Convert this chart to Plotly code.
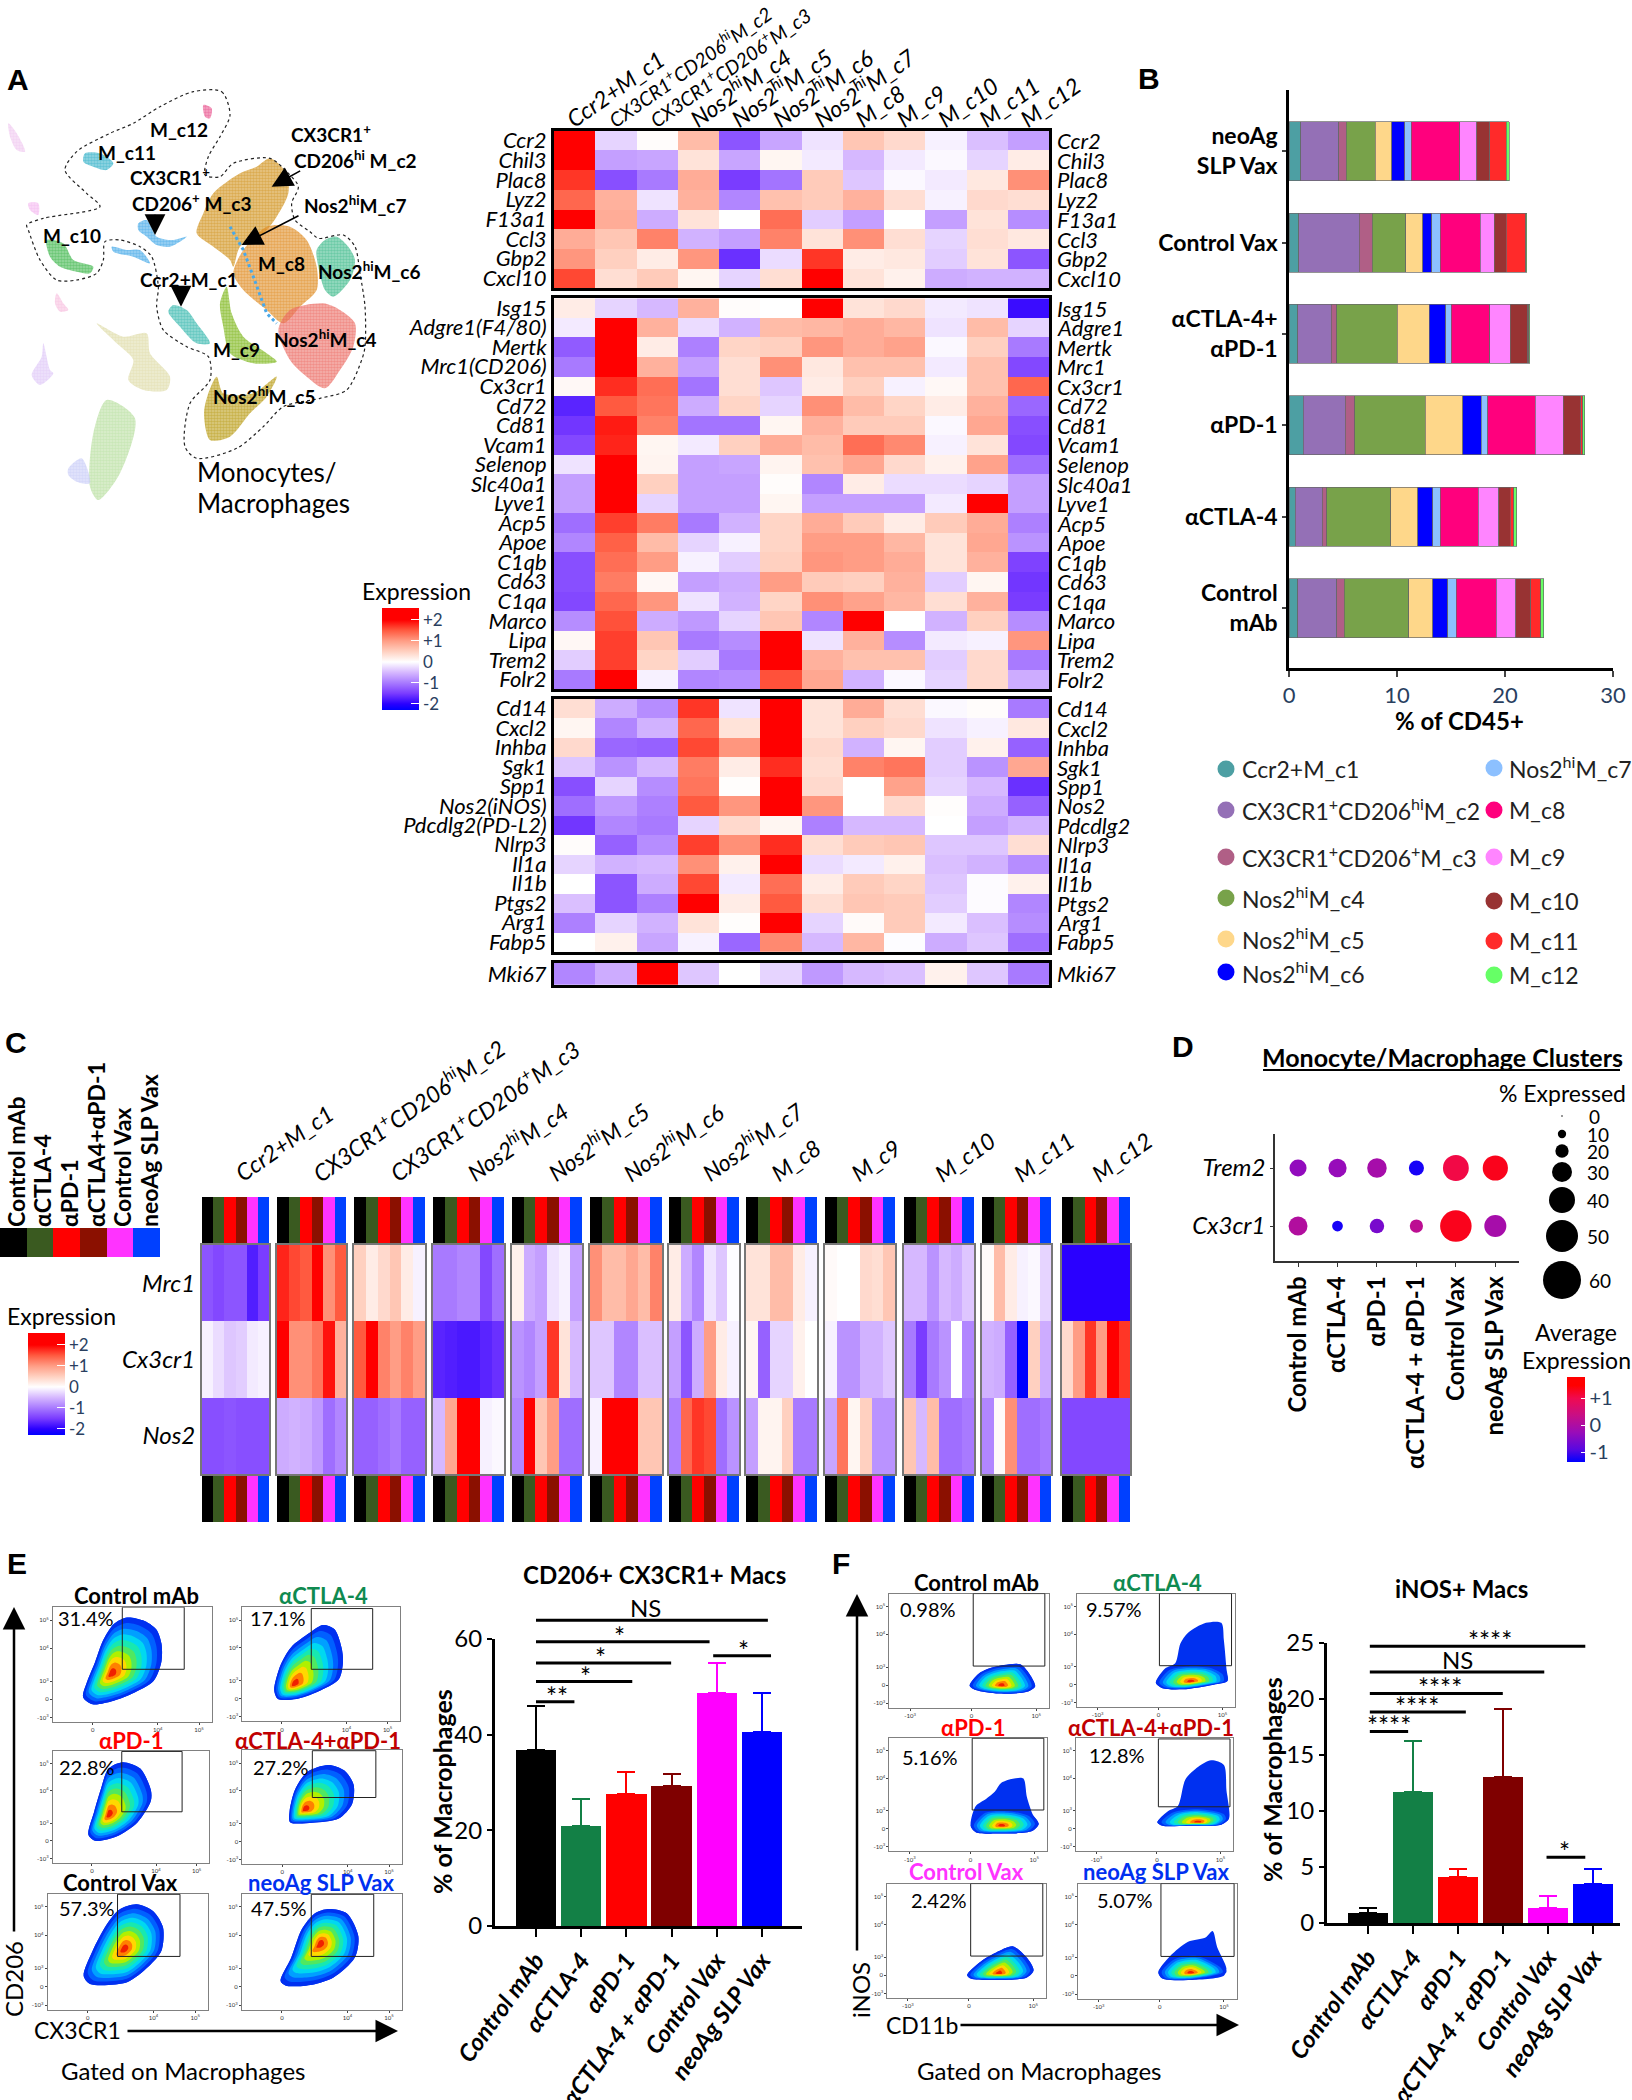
import plotly.graph_objects as go

W, H = 1632, 2100
FONT = "Lato"

# ---------- Panel A heatmap values ----------
CLUSTERS = ["Ccr2+M_c1", "<span style='font-size:19.5px'>CX3CR1<sup>+</sup>CD206<sup>hi</sup>M_c2</span>",
            "<span style='font-size:19.5px'>CX3CR1<sup>+</sup>CD206<sup>+</sup>M_c3</span>",
            "Nos2<sup>hi</sup>M_c4", "Nos2<sup>hi</sup>M_c5", "Nos2<sup>hi</sup>M_c6", "Nos2<sup>hi</sup>M_c7",
            "M_c8", "M_c9", "M_c10", "M_c11", "M_c12"]
GENES_1 = ["Ccr2", "Chil3", "Plac8", "Lyz2", "F13a1", "Ccl3", "Gbp2", "Cxcl10"]
HEAT_1 = [
    [2.0, -0.3, 0.03, 0.7, -1.3, -0.65, -0.2, 0.6, 0.4, -0.1, -0.45, -0.7],
    [2, -0.7, -0.65, 0.3, -0.65, 0.1, -0.15, -0.5, -0.15, -0.05, -0.3, 0.2],
    [1.7, -1.35, -1.0, 0.85, -1.5, -1.05, 0.55, -0.4, -0.05, -0.15, 0.25, 1.1],
    [1.4, 0.8, -0.2, 0.8, -0.9, 0.65, 0.55, 0.8, 0.35, -0.1, 0.4, 0.35],
    [2, 0.85, -0.6, 0.3, 0, 1.35, -0.35, -0.7, 0, -0.7, 0.3, -0.85],
    [0.85, 0.6, 1.2, -0.55, -0.7, 1.2, 0.3, 1.1, 0.35, -0.3, 0.35, 0.25],
    [1.05, 0.5, 0.2, 1.05, -1.6, -0.25, 1.7, 0.2, 0.25, -0.35, 0.3, -1.3],
    [1.6, 0.35, 0.55, 0.1, -0.3, 0.35, 2, 0.3, 0.15, -0.6, -0.55, -0.55],
]
GENES_2 = ["Isg15", "Adgre1(F4/80)", "Mertk", "Mrc1(CD206)", "Cx3cr1", "Cd72", "Cd81", "Vcam1", "Selenop", "Slc40a1",
           "Lyve1", "Acp5", "Apoe", "C1qb", "Cd63", "C1qa", "Marco", "Lipa", "Trem2", "Folr2"]
GENES_2R = ["Isg15", "Adgre1", "Mertk", "Mrc1", "Cx3cr1", "Cd72", "Cd81", "Vcam1", "Selenop", "Slc40a1",
            "Lyve1", "Acp5", "Apoe", "C1qb", "Cd63", "C1qa", "Marco", "Lipa", "Trem2", "Folr2"]
HEAT_2 = [
    [0.2, -0.3, -0.5, 0.8, 0.03, 0, 2, 0.3, 0.4, -0.15, -0.2, -1.9],
    [-0.15, 2, 0.8, -0.25, -0.55, 0.7, 0.75, 0.85, 0.75, -0.2, 0.7, -0.3],
    [-1.25, 2, 0.2, -0.95, 0.45, 0.5, 1.05, 0.85, 0.95, -0.05, 0.5, -1.0],
    [-1.0, 2, 0.8, -0.7, 0.35, 1.1, 0.25, 0.65, 0.65, -0.15, 0.65, -1.4],
    [0.07, 1.75, 1.35, -1.05, 0.35, -0.4, 0.2, 0.5, -0.1, 0.07, 0.65, 1.4],
    [-1.7, 1.5, 1.3, -0.6, 0.45, -0.3, 1.1, 0.7, 0.45, 0.2, 0.8, -1.15],
    [-1.55, 1.85, 1.2, -1.05, -1.05, 0.1, 0.8, 0.55, 0.55, -0.05, 0.9, -1.35],
    [-1.4, 1.8, 0.1, -0.15, 0.5, 0.85, 0.7, 1.35, 1.15, -0.1, 0.3, -1.4],
    [-0.2, 2, 0.12, -0.7, -0.65, 0.12, 0.65, 0.9, 0.4, 0.15, 0.95, -1.1],
    [-0.7, 2, 0.5, -0.7, -0.7, 0.03, -0.9, 0.2, -0.25, -0.25, -0.3, -0.7],
    [-0.7, 2, -0.3, -0.7, -0.7, 0.1, -0.7, -0.7, -0.7, -0.15, 2, -0.7],
    [-1.1, 1.65, 1.25, -1.0, -0.55, 0.45, 0.85, 0.55, 0.2, 0.55, 0.85, -0.95],
    [-0.9, 1.45, 0.7, -0.3, -0.1, 0.45, 1.0, 1.0, 0.75, 0.3, 0.9, -0.8],
    [-1.35, 1.35, 1.0, -0.1, -0.35, 0.5, 1.05, 1.0, 0.85, 0.3, 0.8, -1.45],
    [-1.35, 1.25, 0.08, -0.7, -0.6, 1.0, 0.55, 0.5, 0.8, -0.35, 0.1, -1.55],
    [-1.4, 1.4, 1.05, -0.2, -0.55, 0.45, 1.1, 0.95, 0.75, 0.35, 0.8, -1.5],
    [-0.85, 1.55, -0.6, -0.75, -0.3, 0.6, -0.9, 2, 0, -0.55, 0.5, -0.85],
    [0.08, 1.65, 0.6, -1.0, -0.85, 2, -0.2, 0.8, -0.85, -0.15, -0.1, 1.05],
    [-0.35, 1.65, 0.45, -0.35, -1.0, 2, 0.8, 0.65, 0.65, -0.35, 0.4, -1.0],
    [-1, 2, -0.1, -0.9, -0.85, 1.55, 0.9, -0.55, -0.05, -0.3, 0.4, -0.6],
]
GENES_3 = ["Cd14", "Cxcl2", "Inhba", "Sgk1", "Spp1", "Nos2(iNOS)", "Pdcdlg2(PD-L2)", "Nlrp3", "Il1a", "Il1b", "Ptgs2", "Arg1", "Fabp5"]
GENES_3R = ["Cd14", "Cxcl2", "Inhba", "Sgk1", "Spp1", "Nos2", "Pdcdlg2", "Nlrp3", "Il1a", "Il1b", "Ptgs2", "Arg1", "Fabp5"]
HEAT_3 = [
    [0.35, -0.6, -0.85, 1.7, -0.2, 2, 0.3, 0.85, 0.35, -0.05, 0.03, -1.0],
    [0.1, -0.9, -0.55, 1.4, 0.3, 2, 0.3, 0.5, 0.4, -0.2, -0.1, 0.25],
    [0.4, -1.15, -1.2, 1.6, 1.05, 2, 0.4, -0.55, 0.1, -0.35, 0.15, -1.2],
    [-0.4, -0.8, -0.5, 1.25, 0.2, 1.75, 0.35, 1.2, 1.3, -0.35, -0.8, 0.9],
    [-1.35, -0.3, -0.85, 1.3, 0.02, 2, 0.4, 0, 0.95, -0.3, -0.5, -1.6],
    [-1.1, -0.75, -0.95, 1.5, 1.05, 2, 1.05, 0, 0.4, 0.02, -0.6, -1.2],
    [-1.55, -0.9, -1, -0.3, 0.4, 0.1, -0.95, -0.5, -0.5, 0, -0.7, -0.55],
    [0.03, -1.2, -0.85, 1.65, 1.1, 1.75, 0.35, 0.55, 0.6, -0.4, -0.4, 0.35],
    [-0.3, -0.55, -0.5, 1.1, 0.15, 2, -0.25, -0.15, 0.15, -0.45, -0.55, -0.85],
    [0, -1.3, -0.6, 1.6, -0.15, 1.35, 0.2, 0.55, 0.45, -0.4, -0.03, 0.15],
    [-0.45, -1.3, -0.95, 2, 0.2, 1.5, 0.35, 0.6, 0.55, -0.35, -0.03, -0.9],
    [-0.95, -0.3, -0.55, 0.3, 0.02, 2, -0.3, 0.05, 0.55, -0.15, -0.45, -0.85],
    [0, 0.15, -0.65, -0.1, -1.15, 1.15, -0.5, 0.75, -0.02, -0.6, -0.4, -1.1],
]
GENES_4 = ["Mki67"]
HEAT_4 = [[-0.9, -0.6, 2, -0.4, 0, -0.3, -0.75, -0.5, -0.45, 0.15, -0.4, -1.0]]

# ---------- Panel B ----------
B_GROUPS = ["Control<br>mAb", "αCTLA-4", "αPD-1", "αCTLA-4+<br>αPD-1", "Control Vax", "neoAg<br>SLP Vax"]
B_NAMES = ["Ccr2+M_c1", "CX3CR1<sup>+</sup>CD206<sup>hi</sup>M_c2", "CX3CR1<sup>+</sup>CD206<sup>+</sup>M_c3",
           "Nos2<sup>hi</sup>M_c4", "Nos2<sup>hi</sup>M_c5", "Nos2<sup>hi</sup>M_c6", "Nos2<sup>hi</sup>M_c7",
           "M_c8", "M_c9", "M_c10", "M_c11", "M_c12"]
B_COLORS = ["#4d9fa3", "#9470b6", "#b05f86", "#78a24a", "#fed78a", "#0000ff", "#8cc0ff",
            "#ff007d", "#ff85ff", "#983333", "#ff2a2a", "#66ff66"]
B_CONTROL_MAB = [0.8, 3.6, 0.7, 6.0, 2.2, 1.4, 0.8, 3.7, 1.8, 1.4, 0.9, 0.3]
B_CTLA4 = [0.6, 2.5, 0.4, 5.9, 2.5, 1.4, 0.7, 3.5, 1.9, 1.1, 0.3, 0.3]
B_PD1 = [1.3, 3.9, 0.9, 6.5, 3.5, 1.7, 0.6, 4.4, 2.6, 1.6, 0.2, 0.2]
B_COMBO = [0.8, 3.1, 0.5, 5.6, 3.0, 1.5, 0.5, 3.6, 1.9, 1.6, 0.1, 0.1]
B_CONTROL_VAX = [0.9, 5.6, 1.2, 3.1, 1.6, 0.8, 0.8, 3.7, 1.3, 1.1, 1.8, 0.1]
B_NEOAG = [1.1, 3.5, 0.7, 2.7, 1.5, 1.2, 0.6, 4.5, 1.6, 1.2, 1.5, 0.3]

# ---------- Panel C ----------
C_GROUP_COLORS = ["#000000", "#3a5a20", "#ff0000", "#8b1000", "#ff33ff", "#0040ff"]
C_GROUP_NAMES = ["Control mAb", "αCTLA-4", "αPD-1", "αCTLA4+αPD-1", "Control Vax", "neoAg SLP Vax"]
C_GENES = ["Mrc1", "Cx3cr1", "Nos2"]
C_C1 = [[-1.3, -1.4, -1.3, -1.3, -1.75, -1.5], [-0.1, -0.25, -0.4, -0.35, -0.15, -0.1], [-1.35, -1.35, -1.3, -1.35, -1.35, -1.35]]
C_C2 = [[1.8, 1.6, 1.5, 2, 1.1, 1.5], [2, 1.1, 1.1, 1.3, 1.9, 0.8], [-0.6, -0.55, -0.6, -0.75, -1.1, -0.9]]
C_C3 = [[0.5, 0.2, 0.4, 0.6, 0.2, -0.1], [1.5, 2, 1.2, 1.0, 1.2, 1.0], [-1.2, -1.2, -1.1, -1.0, -1.2, -1.2]]
C_C4 = [[-1.0, -1.0, -0.9, -0.9, -1.4, -1.1], [-1.7, -1.75, -1.8, -1.8, -1.7, -1.6], [-0.5, 0.9, 2, 2, -0.1, -0.05]]
C_C5 = [[0.15, -0.6, -0.7, -0.2, -0.1, -0.7], [-0.8, -0.9, -0.7, 1.7, 0.3, -0.5], [-0.9, 2, 0.6, 1.0, -1.1, -1.1]]
C_C6 = [[1.1, 0.7, 0.7, 0.9, 0.7, 1.2], [-0.4, -0.4, -0.9, -0.9, -0.45, -0.45], [-0.1, 2, 2, 2, 0.6, 0.6]]
C_C7 = [[0.2, -0.6, -0.9, -0.2, -0.4, -0.02], [-0.7, -1.3, -0.6, 1.0, 0.2, -0.1], [-0.95, 1.4, 1.7, 1.6, -1.1, -0.8]]
C_C8 = [[0.3, 0.3, 0.7, 0.7, 0.2, -0.1], [0.1, -1.2, -0.3, -0.3, 0.15, 0], [-0.7, 0.12, 0.12, 0.5, -1.0, -1.0]]
C_C9 = [[0.05, 0, 0, 0.4, 0.35, 0.6], [-0.1, -0.8, -0.8, -0.55, -0.55, -0.4], [-0.65, 1.3, 0.1, 0.5, -0.8, -0.8]]
C_C10 = [[-0.5, -0.5, -0.8, -0.5, -0.6, -0.4], [-1.0, -1.5, -1.0, -0.8, 0, -0.9], [0.6, -0.5, 0.7, -1.1, -1.1, -1.0]]
C_C11 = [[0.05, 0.7, 0.2, -0.1, -0.05, -0.3], [-0.55, -0.6, -1.2, -2.29, 0.5, -0.6], [-0.9, 0.05, 1.1, -1.1, -1.1, -1.0]]
C_C12 = [[-2.0, -2.0, -2.0, -2.0, -2.0, -2.0], [0.4, 1.0, 1.7, 1.0, 2, 1.7], [-1.4, -1.4, -1.4, -1.4, -1.4, -1.4]]
C_ALL = [C_C1, C_C2, C_C3, C_C4, C_C5, C_C6, C_C7, C_C8, C_C9, C_C10, C_C11, C_C12]
C_LABELS = ["Ccr2+M_c1", "CX3CR1<sup>+</sup>CD206<sup>hi</sup>M_c2", "CX3CR1<sup>+</sup>CD206<sup>+</sup>M_c3",
            "Nos2<sup>hi</sup>M_c4", "Nos2<sup>hi</sup>M_c5", "Nos2<sup>hi</sup>M_c6", "Nos2<sup>hi</sup>M_c7",
            "M_c8", "M_c9", "M_c10", "M_c11", "M_c12"]

# ---------- Panel D ----------
D_GROUPS = ["Control mAb", "αCTLA-4", "αPD-1", "αCTLA-4 + αPD-1", "Control Vax", "neoAg SLP Vax"]
D_TREM2_PCT = [27, 29, 31, 24, 41, 40]
D_CX3CR1_PCT = [30, 17, 23, 21, 50, 35]
D_TREM2_EXP = [-0.35, -0.3, -0.1, -1.25, 1.05, 1.3]
D_CX3CR1_EXP = [0.05, -1.25, -0.6, 0.2, 1.3, -0.1]
D_SIZE_LEGEND = [0, 10, 20, 30, 40, 50, 60]

# ---------- Panels E, F bars ----------
BAR_GROUPS = ["Control mAb", "αCTLA-4", "αPD-1", "αCTLA-4 + αPD-1", "Control Vax", "neoAg SLP Vax"]
BAR_COLORS = ["#000000", "#138046", "#ff0000", "#7f0000", "#ff00ff", "#0000ff"]
E_VALUES = [36.9, 21.0, 27.6, 29.2, 48.7, 40.5]
E_ERRORS = [9.1, 5.6, 4.6, 2.6, 6.2, 8.3]
F_VALUES = [0.86, 11.73, 4.15, 13.04, 1.37, 3.44]
F_ERRORS = [0.44, 4.5, 0.7, 6.06, 1.05, 1.36]
E_SIG = [(0, 5.13, 63.9, "NS", 2.42), (0, 3.84, 59.4, "*", 1.84), (0, 2.99, 55.0, "*", 1.43),
         (0, 2.13, 51.1, "*", 1.1), (0, 0.85, 46.9, "**", 0.46), (3.92, 5.2, 56.5, "*", 4.58)]
F_SIG = [(0.05, 4.83, 24.7, "****", 2.72), (0.05, 3.92, 22.4, "NS", 2.0), (0.05, 3.0, 20.5, "****", 1.6),
         (0.05, 2.18, 18.85, "****", 1.09), (0.05, 0.9, 17.1, "****", 0.47), (3.97, 4.83, 5.87, "*", 4.36)]

# ---------- Flow panels: channel units; [x_left, x_right, y_top, y_bottom] ----------
E_FLOW = [
    dict(t="Control mAb", c="#000000", pct="31.4%", box=[100, 400, 188, 510], gate=[231, 348, 188, 362], peak=(210, 375),
         outer=[(240, 217), (270, 225), (295, 250), (305, 290), (305, 340), (290, 395), (250, 430), (215, 450), (175, 460), (157, 440), (165, 395), (180, 340), (195, 280), (215, 235)]),
    dict(t="αCTLA-4", c="#0f8a50", pct="17.1%", box=[458, 756, 188, 508], gate=[588, 704, 192, 362], peak=(555, 405),
         outer=[(610, 238), (632, 250), (645, 300), (648, 340), (640, 390), (600, 425), (560, 445), (525, 445), (518, 420), (530, 350), (550, 300), (585, 260)]),
    dict(t="αPD-1", c="#ff0000", pct="22.8%", box=[100, 395, 590, 905], gate=[230, 344, 592, 761], peak=(205, 770),
         outer=[(232, 622), (265, 640), (285, 700), (285, 730), (260, 790), (220, 830), (180, 842), (167, 825), (178, 760), (190, 700), (205, 640)]),
    dict(t="αCTLA-4+αPD-1", c="#c00000", pct="27.2%", box=[458, 759, 588, 908], gate=[590, 710, 590, 721], peak=(575, 755),
         outer=[(620, 630), (650, 645), (668, 685), (665, 740), (640, 780), (590, 792), (548, 790), (547, 760), (557, 700), (580, 650)]),
    dict(t="Control Vax", c="#000000", pct="57.3%", box=[90, 393, 990, 1315], gate=[222, 340, 992, 1166], peak=(235, 1145),
         outer=[(258, 1020), (290, 1040), (308, 1085), (305, 1150), (280, 1195), (240, 1238), (170, 1243), (158, 1220), (175, 1150), (200, 1080), (225, 1035)]),
    dict(t="neoAg SLP Vax", c="#0030f0", pct="47.5%", box=[457, 759, 990, 1315], gate=[588, 706, 992, 1166], peak=(605, 1130),
         outer=[(620, 1033), (655, 1045), (677, 1110), (670, 1170), (630, 1225), (590, 1245), (540, 1248), (530, 1235), (550, 1170), (570, 1090), (595, 1045)]),
]
F_FLOW = [
    dict(t="Control mAb", c="#000000", pct="0.98%", box=[116, 428, 150, 470], gate=[280, 420, 150, 353], peak=(335, 407),
         outer=[(340, 350), (372, 348), (390, 375), (401, 410), (385, 425), (330, 430), (285, 420), (273, 408), (290, 375), (315, 358)],
         body=[(340, 350), (372, 348), (390, 375), (401, 410), (385, 425), (330, 430), (285, 420), (273, 408), (290, 375), (315, 358)]),
    dict(t="αCTLA-4", c="#0f8a50", pct="9.57%", box=[483, 792, 150, 468], gate=[644, 785, 150, 352], peak=(705, 396),
         outer=[(735, 232), (765, 232), (770, 280), (775, 360), (777, 395), (750, 405), (690, 418), (650, 415), (637, 400), (655, 360), (675, 345), (685, 290), (700, 260)],
         body=[(660, 360), (700, 350), (750, 355), (775, 375), (777, 395), (750, 405), (690, 418), (650, 415), (637, 400)]),
    dict(t="αPD-1", c="#ff0000", pct="5.16%", box=[116, 424, 553, 872], gate=[278, 418, 555, 756], peak=(335, 800),
         outer=[(360, 668), (378, 668), (385, 720), (397, 770), (408, 795), (395, 815), (330, 822), (285, 818), (275, 800), (285, 745), (305, 725), (322, 705), (335, 680)],
         body=[(300, 760), (350, 755), (395, 770), (408, 795), (395, 815), (330, 822), (285, 818), (275, 800)]),
    dict(t="αCTLA-4+αPD-1", c="#c00000", pct="12.8%", box=[481, 788, 553, 872], gate=[642, 782, 557, 747], peak=(720, 790),
         outer=[(745, 617), (770, 630), (775, 700), (780, 780), (765, 797), (700, 800), (650, 800), (640, 790), (660, 760), (680, 745), (695, 670), (720, 635)],
         body=[(665, 760), (720, 750), (775, 765), (780, 780), (765, 797), (700, 800), (650, 800), (640, 790)]),
    dict(t="Control Vax", c="#ff33ff", pct="2.42%", box=[112, 422, 962, 1283], gate=[275, 416, 962, 1165], peak=(330, 1213),
         outer=[(358, 1138), (385, 1170), (398, 1205), (385, 1225), (320, 1232), (275, 1228), (268, 1218), (295, 1180), (325, 1155)],
         body=[(358, 1138), (385, 1170), (398, 1205), (385, 1225), (320, 1232), (275, 1228), (268, 1218), (295, 1180), (325, 1155)]),
    dict(t="neoAg SLP Vax", c="#0030f0", pct="5.07%", box=[485, 795, 962, 1285], gate=[647, 790, 962, 1166], peak=(705, 1212),
         outer=[(748, 1095), (757, 1140), (775, 1200), (770, 1220), (700, 1232), (650, 1228), (642, 1210), (665, 1165), (700, 1125), (735, 1112)],
         body=[(670, 1170), (720, 1160), (770, 1195), (775, 1210), (700, 1232), (650, 1228), (642, 1210)]),
]

# ---------- UMAP regions: (colour, outline) ----------
UMAP_BOUNDARY = [(580, 95), (665, 95), (690, 165), (660, 230), (625, 290), (615, 345), (660, 350), (700, 310), (810, 295), (860, 335), (895, 380), (875, 430), (885, 480), (930, 515), (955, 535), (1030, 525), (1065, 560), (1080, 640), (1095, 740), (1095, 860), (1085, 900), (1040, 990), (960, 1015), (850, 1040), (790, 1100), (710, 1165), (590, 1195), (555, 1160), (570, 1030), (630, 960), (625, 890), (560, 860), (490, 810), (470, 740), (475, 680), (455, 590), (420, 560), (360, 540), (315, 545), (310, 600), (290, 640), (230, 660), (170, 660), (120, 600), (85, 510), (80, 495), (130, 475), (300, 440), (260, 400), (195, 330), (230, 275), (330, 220), (400, 190), (480, 140), (580, 95)]
UMAP_CLUSTERS = [
    ("#f0c8f0", [(25, 190), (50, 220), (75, 275), (50, 270), (30, 230)]),
    ("#f4b8f0", [(85, 430), (115, 430), (115, 465), (90, 450)]),
    ("#f8c0e0", [(170, 700), (190, 730), (205, 750), (180, 755), (165, 730)]),
    ("#e0c8f8", [(130, 850), (150, 930), (160, 940), (120, 975), (95, 945), (125, 890)]),
    ("#e0dca8", [(290, 790), (370, 830), (440, 820), (450, 880), (510, 950), (500, 990), (430, 990), (385, 960), (400, 900), (350, 850)]),
    ("#b8e0a0", [(320, 1020), (405, 1075), (360, 1240), (295, 1320), (270, 1280), (280, 1120)]),
    ("#c8ccf8", [(205, 1225), (245, 1195), (270, 1270), (230, 1265), (205, 1245)]),
    ("#d09018", [(810, 295), (860, 340), (865, 400), (830, 470), (790, 520), (720, 560), (700, 620), (690, 600), (640, 560), (590, 520), (610, 460), (640, 400), (720, 340), (770, 320)]),
    ("#e08a1e", [(800, 500), (870, 500), (920, 540), (950, 620), (950, 690), (900, 740), (850, 790), (800, 750), (730, 690), (700, 640), (730, 570)]),
    ("#3bb98a", [(1010, 530), (1045, 560), (1065, 600), (1050, 660), (1000, 710), (975, 690), (955, 620), (950, 570), (975, 540)]),
    ("#ec6a62", [(970, 730), (1020, 750), (1065, 790), (1060, 860), (1020, 930), (975, 985), (920, 950), (870, 900), (835, 810), (870, 750)]),
    ("#7cb518", [(680, 680), (695, 760), (730, 830), (800, 880), (830, 905), (760, 910), (690, 880), (670, 800), (660, 730)]),
    ("#b79a10", [(650, 950), (670, 1000), (760, 1000), (830, 950), (800, 1010), (750, 1060), (690, 1130), (630, 1140), (612, 1060), (625, 1000)]),
    ("#35b8ad", [(520, 735), (560, 750), (590, 790), (630, 850), (590, 850), (540, 800), (505, 755)]),
    ("#42a8e8", [(415, 490), (440, 480), (470, 530), (520, 540), (560, 530), (510, 560), (470, 555), (440, 530), (415, 510)]),
    ("#42a8e8", [(335, 560), (380, 570), (420, 570), (450, 610), (400, 590), (340, 575)]),
    ("#3cb54a", [(140, 540), (190, 550), (220, 600), (280, 620), (270, 640), (230, 635), (180, 620), (150, 590)]),
    ("#30b0c8", [(255, 280), (300, 280), (340, 310), (320, 330), (280, 320), (250, 305)]),
    ("#e8508c", [(610, 135), (635, 145), (630, 175), (615, 170)]),
]
UMAP_C7_LINE = [(690, 500), (730, 570), (760, 650), (800, 760), (830, 790)]

# ---------- Helpers ----------
fig = go.Figure()
axes, shapes, annos = {}, [], []
_n = 0


def px(x):
    return x / W


def py(y):
    return 1 - y / H


def new_axes(l, t, r, b, xkw=None, ykw=None):
    global _n
    _n += 1
    base = dict(showgrid=False, zeroline=False, showticklabels=False, ticks="", fixedrange=True, ticklabeloverflow="allow")
    xa = dict(base, domain=[px(l), px(r)], anchor=f"y{_n}")
    ya = dict(base, domain=[py(b), py(t)], anchor=f"x{_n}")
    xa.update(xkw or {})
    ya.update(ykw or {})
    axes[f"xaxis{_n}"] = xa
    axes[f"yaxis{_n}"] = ya
    return f"x{_n}", f"y{_n}"


def text(x, y, s, size=20, color="#000000", xanchor="center", angle=0, family=FONT):
    annos.append(dict(text=s, x=px(x), y=py(y), xref="paper", yref="paper", xanchor=xanchor, yanchor="middle",
                      showarrow=False, textangle=angle, font=dict(family=family, size=size, color=color)))


def arrow(x0, y0, x1, y1, width=2.0, size=2.0):
    annos.append(dict(text="", x=px(x1), y=py(y1), xref="paper", yref="paper", ax=x0 - x1, ay=y0 - y1,
                      axref="pixel", ayref="pixel", showarrow=True, arrowhead=2, arrowsize=size,
                      arrowwidth=width, arrowcolor="#000000", standoff=0, startstandoff=0))


def line(x0, y0, x1, y1, width=1.0, color="#000000"):
    shapes.append(dict(type="line", xref="paper", yref="paper", x0=px(x0), y0=py(y0), x1=px(x1), y1=py(y1),
                       line=dict(color=color, width=width)))


def circle(cx, cy, d, color):
    shapes.append(dict(type="circle", xref="paper", yref="paper", x0=px(cx - d / 2), x1=px(cx + d / 2),
                       y0=py(cy - d / 2), y1=py(cy + d / 2), fillcolor=color, line=dict(width=0)))


def rgba(hex_, a):
    return f"rgba({int(hex_[1:3], 16)},{int(hex_[3:5], 16)},{int(hex_[5:7], 16)},{a})"


ZMIN, ZMAX = -2.29, 2.57


def zs(v):
    return (v - ZMIN) / (ZMAX - ZMIN)


HEAT_SCALE = [[zs(-2.29), "#0000ff"], [zs(-2), "#2a00ff"], [zs(-1.5), "#7a3cff"], [zs(-1), "#a87aff"],
              [zs(-0.5), "#d6b8ff"], [zs(0), "#ffffff"], [zs(0.5), "#ffd0c0"], [zs(1), "#ff9d85"],
              [zs(1.5), "#ff5a40"], [zs(2), "#ff0000"], [1, "#ff0000"]]


def discrete(colors):
    n = len(colors)
    out = []
    for i, c in enumerate(colors):
        out += [[i / n, c], [(i + 1) / n, c]]
    return out


def heat_bar(l, t, h):
    return dict(x=px(l), xanchor="left", y=py(t), yanchor="top", thickness=37, thicknessmode="pixels",
                len=h, lenmode="pixels", xpad=0, ypad=0, outlinewidth=0, tickvals=[-2, -1, 0, 1, 2],
                ticktext=["-2", "-1", "0", "+1", "+2"], ticks="inside", ticklen=8, tickcolor="#ffffff",
                tickfont=dict(family=FONT, size=17))


# ---------- Panel A: UMAP ----------
ux, uy = new_axes(0, 60, 470, 540, dict(range=[0, 1410], visible=False), dict(range=[1440, 0], visible=False))
for col, pts in UMAP_CLUSTERS:
    fig.add_trace(go.Scatter(x=[p[0] for p in pts] + [pts[0][0]], y=[p[1] for p in pts] + [pts[0][1]], xaxis=ux, yaxis=uy,
                             mode="lines", line=dict(width=0, shape="spline", smoothing=0.8), fill="toself",
                             fillcolor=col, fillpattern=dict(shape=".", size=3, solidity=0.6, fgcolor=col, bgcolor=rgba(col, 0.5)),
                             showlegend=False, hoverinfo="skip"))
fig.add_trace(go.Scatter(x=[p[0] for p in UMAP_C7_LINE], y=[p[1] for p in UMAP_C7_LINE], xaxis=ux, yaxis=uy, mode="lines",
                         line=dict(color="#4aa8e8", width=3, dash="dot"), showlegend=False, hoverinfo="skip"))
fig.add_trace(go.Scatter(x=[p[0] for p in UMAP_BOUNDARY], y=[p[1] for p in UMAP_BOUNDARY], xaxis=ux, yaxis=uy, mode="lines",
                         line=dict(color="#222222", width=1.2, dash="dot", shape="spline", smoothing=0.8),
                         showlegend=False, hoverinfo="skip"))


def utext(x, y, s, size=20, xanchor="center"):
    text(x / 3, 60 + y / 3, s, size=size, xanchor=xanchor)


for x_, y_, s_ in [(537, 208, "M_c12"), (380, 277, "M_c11"), (510, 350, "CX3CR1<sup>+</sup>"),
                   (575, 427, "CD206<sup>+</sup> M_c3"), (993, 220, "CX3CR1<sup>+</sup>"), (1065, 298, "CD206<sup>hi</sup> M_c2"),
                   (1065, 435, "Nos2<sup>hi</sup>M_c7"), (843, 610, "M_c8"), (1108, 632, "Nos2<sup>hi</sup>M_c6"),
                   (215, 525, "M_c10"), (567, 660, "Ccr2+M_c1"), (975, 835, "Nos2<sup>hi</sup>M_c4"),
                   (710, 867, "M_c9"), (793, 1005, "Nos2<sup>hi</sup>M_c5")]:
    utext(x_, y_, f"<b>{s_}</b>", 19)
utext(585, 1237, "Monocytes/", 26, "left")
utext(585, 1330, "Macrophages", 26, "left")
for a_ in [(905, 330, 815, 380), (465, 460, 465, 525), (900, 465, 725, 555), (543, 690, 543, 740)]:
    arrow(a_[0] / 3, 60 + a_[1] / 3, a_[2] / 3, 60 + a_[3] / 3, 1.6, 2.6)

# ---------- Panel A: heatmap ----------
A_L, A_R = 554, 1049
A_BLOCKS = [(130.7, 288.3, GENES_1, GENES_1, HEAT_1), (298.3, 689.3, GENES_2, GENES_2R, HEAT_2),
            (699, 951.7, GENES_3, GENES_3R, HEAT_3), (962.7, 985, GENES_4, GENES_4, HEAT_4)]
for i, (t_, b_, gl, gr, z) in enumerate(A_BLOCKS):
    n = len(gl)
    xkw = dict(range=[-0.5, 11.5], showline=True, mirror=True, linecolor="#000000", linewidth=3)
    if i == 0:
        xkw.update(side="top", showticklabels=True, tickmode="array", tickvals=list(range(12)),
                   ticktext=[f"<i>{c}</i>" for c in CLUSTERS], tickangle=-35, ticklabelstandoff=-12, ticklabelshift=-7,
                   tickfont=dict(family=FONT, size=23, color="#000000"))
    ykw = dict(range=[n - 0.5, -0.5], showline=True, mirror=True, linecolor="#000000", linewidth=3,
               showticklabels=True, tickmode="array", tickvals=list(range(n)),
               ticktext=[f"<i>{g}</i>" for g in gl], tickfont=dict(family=FONT, size=22, color="#000000"))
    xa, ya = new_axes(A_L, t_, A_R, b_, xkw, ykw)
    tr = go.Heatmap(z=z, x=list(range(12)), y=list(range(n)), xaxis=xa, yaxis=ya, zmin=ZMIN, zmax=ZMAX,
                    colorscale=HEAT_SCALE, showscale=(i == 0), hoverinfo="skip")
    if i == 0:
        tr.colorbar = heat_bar(382, 608, 102)
    fig.add_trace(tr)
    pitch = (b_ - t_) / n
    for k, g in enumerate(gr):
        text(1055, t_ + (k + 0.5) * pitch, f"<i>{g}</i>", 22, xanchor="left")
text(417, 591, "Expression", 23)

# ---------- Panel B ----------
B_SERIES = [B_CONTROL_MAB, B_CTLA4, B_PD1, B_COMBO, B_CONTROL_VAX, B_NEOAG]
bx, by = new_axes(1289, 90, 1613, 668,
                  dict(range=[0, 30], showline=True, linecolor="#000000", linewidth=2.5, showticklabels=True, ticks="outside",
                       ticklen=6, tickwidth=2, tickvals=[0, 10, 20, 30], tickfont=dict(family=FONT, size=22)),
                  dict(range=[-0.656, 5.67], showline=True, linecolor="#000000", linewidth=2.5, showticklabels=True, ticks="outside",
                       ticklen=4, tickwidth=2, tickvals=list(range(6)), ticktext=[f"<b>{g}</b>" for g in B_GROUPS],
                       tickfont=dict(family=FONT, size=23, color="#000000")))
for j, (name, col) in enumerate(zip(B_NAMES, B_COLORS)):
    fig.add_trace(go.Bar(y=list(range(6)), x=[s[j] for s in B_SERIES], orientation="h", width=0.645, xaxis=bx, yaxis=by,
                         marker=dict(color=col, line=dict(color="#666666", width=0.7)), name=name, showlegend=False,
                         hoverinfo="skip"))
text(1459, 720, "<b>% of CD45+</b>", 24)
LEG_Y_L = [769, 810, 857, 898, 939, 972]
LEG_Y_R = [768, 810, 857, 901, 941, 975]
for j in range(6):
    circle(1226, LEG_Y_L[j], 17, B_COLORS[j])
    text(1240, LEG_Y_L[j], B_NAMES[j], 23, "#222222", "left")
    circle(1494, LEG_Y_R[j], 17, B_COLORS[j + 6])
    text(1507, LEG_Y_R[j], B_NAMES[j + 6], 23, "#222222", "left")

# ---------- Panel C ----------
sx, sy = new_axes(0, 1228, 160, 1257,
                  dict(range=[-0.5, 5.5], side="top", showticklabels=True, tickmode="array", tickvals=list(range(6)),
                       ticktext=[f"<b>{g}</b>" for g in C_GROUP_NAMES], tickangle=-90, ticklabelshift=4,
                       tickfont=dict(family=FONT, size=23, color="#000000")),
                  dict(range=[-0.5, 0.5]))
fig.add_trace(go.Heatmap(z=[list(range(6))], xaxis=sx, yaxis=sy, zmin=-0.5, zmax=5.5, colorscale=discrete(C_GROUP_COLORS),
                         showscale=False, hoverinfo="skip"))
C_X = [(202, 269), (277, 346), (354, 425), (433, 504), (512, 582), (590, 662),
       (669, 739), (746, 817), (825, 895), (904, 974), (982, 1051), (1062, 1130)]
C_LABEL_X = [227, 303, 381, 458, 539, 614, 693, 763, 843, 926, 1005, 1083]
for i, (l_, r_) in enumerate(C_X):
    for (t_, b_) in [(1197, 1243), (1475, 1522)]:
        xa, ya = new_axes(l_, t_, r_, b_, dict(range=[-0.5, 5.5]), dict(range=[-0.5, 0.5]))
        fig.add_trace(go.Heatmap(z=[list(range(6))], xaxis=xa, yaxis=ya, zmin=-0.5, zmax=5.5,
                                 colorscale=discrete(C_GROUP_COLORS), showscale=False, hoverinfo="skip"))
    ykw = dict(range=[2.5, -0.5], showline=True, mirror=True, linecolor="#777777", linewidth=2)
    if i == 0:
        ykw.update(showticklabels=True, tickmode="array", tickvals=[0, 1, 2], ticktext=[f"<i>{g}</i>" for g in C_GENES],
                   tickfont=dict(family=FONT, size=24, color="#000000"))
    xa, ya = new_axes(l_, 1245, r_, 1474, dict(range=[-0.5, 5.5], showline=True, mirror=True, linecolor="#777777", linewidth=2), ykw)
    tr = go.Heatmap(z=C_ALL[i], xaxis=xa, yaxis=ya, zmin=ZMIN, zmax=ZMAX, colorscale=HEAT_SCALE, showscale=(i == 0), hoverinfo="skip")
    if i == 0:
        tr.colorbar = heat_bar(28, 1333, 102)
    fig.add_trace(tr)
    annos.append(dict(text=f"<i>{C_LABELS[i]}</i>", x=px(C_LABEL_X[i]), y=py(1190), xref="paper", yref="paper", xanchor="left",
                      yanchor="bottom", showarrow=False, textangle=-35, font=dict(family=FONT, size=23, color="#000000")))
text(62, 1316, "Expression", 23)

# ---------- Panel D ----------
D_SCALE = [[0, "#0000ff"], [0.15, "#5a08e0"], [0.35, "#9a0cb8"], [0.55, "#c80f85"], [0.75, "#f00a50"], [0.9, "#ff0000"], [1, "#ff0000"]]
dx, dy = new_axes(1275, 1134, 1519, 1261,
                  dict(range=[-0.584, 5.6], showline=True, linecolor="#333333", linewidth=1.5, showticklabels=True, ticks="outside",
                       ticklen=4, tickcolor="#333333", tickmode="array", tickvals=list(range(6)), ticktext=[f"<b>{g}</b>" for g in D_GROUPS],
                       tickangle=-90, tickfont=dict(family=FONT, size=24, color="#000000")),
                  dict(range=[-0.603, 1.586], showline=True, linecolor="#333333", linewidth=1.5, showticklabels=True, ticks="outside",
                       ticklen=3, tickcolor="#333333", tickmode="array", tickvals=[0, 1], ticktext=["<i>Cx3cr1</i>", "<i>Trem2</i>"],
                       tickfont=dict(family=FONT, size=24, color="#000000")))
fig.add_trace(go.Scatter(x=list(range(6)) * 2, y=[1] * 6 + [0] * 6, xaxis=dx, yaxis=dy, mode="markers",
                         marker=dict(size=D_TREM2_PCT + D_CX3CR1_PCT, sizemode="diameter", sizeref=1 / 0.63, line=dict(width=0),
                                     opacity=1, color=D_TREM2_EXP + D_CX3CR1_EXP, colorscale=D_SCALE, cmin=-1.37, cmax=1.78,
                                     showscale=True,
                                     colorbar=dict(x=px(1567), xanchor="left", y=py(1377), yanchor="top", thickness=18, thicknessmode="pixels",
                                                   len=85, lenmode="pixels", xpad=0, ypad=0, outlinewidth=0, tickvals=[-1, 0, 1],
                                                   ticktext=["-1", "0", "+1"], ticks="inside", ticklen=4, tickcolor="#ffffff",
                                                   tickfont=dict(family=FONT, size=20))),
                         showlegend=False, hoverinfo="skip"))
text(1442, 1057, "<b>Monocyte/Macrophage Clusters</b>", 25)
line(1263, 1070, 1620, 1070, 2)
text(1562, 1093, "% Expressed", 23)
SIZE_Y = [1116, 1134, 1151, 1172, 1200, 1236, 1280]
SIZE_D = [1.5, 8.3, 13.3, 20, 26, 32, 38]
SIZE_LX = [1594, 1598, 1598, 1598, 1598, 1598, 1600]
for v_, y_, d_, lx_ in zip(D_SIZE_LEGEND, SIZE_Y, SIZE_D, SIZE_LX):
    circle(1562, y_, d_, "#000000")
    text(lx_, y_, str(v_), 19)
text(1576, 1332, "Average", 23)
text(1576, 1360, "Expression", 23)

# ---------- Flow panels ----------
JET = ["#0030f0", "#0060ff", "#00a0ff", "#00d8f0", "#18e8b0", "#50e860", "#b0f000", "#ffd800", "#ff8000", "#f02000"]
LEVELS = [1.0, 0.9, 0.8, 0.7, 0.6, 0.5, 0.4, 0.3, 0.2, 0.1]
FLOW_X_T = [("0", 0.25), ("10<sup>4</sup>", 0.66), ("10<sup>5</sup>", 0.92)]
FLOW_F_T = [("-10<sup>3</sup>", 0.13), ("0", 0.515), ("10<sup>5</sup>", 0.92)]
FLOW_Y_T = [("10<sup>5</sup>", 0.115), ("10<sup>4</sup>", 0.357), ("10<sup>3</sup>", 0.643), ("0", 0.8), ("-10<sup>3</sup>", 0.96)]


def closed(pts):
    return [p[0] for p in pts] + [pts[0][0]], [p[1] for p in pts] + [pts[0][1]]


def flow_panels(panels, x0, y0, fx, fy, xticks):
    for p in panels:
        xl, xr, yt, yb = p["box"]
        l_, r_, t_, b_ = x0 + xl / fx, x0 + xr / fx, y0 + yt / fy, y0 + yb / fy
        common = dict(showline=True, mirror=True, linecolor="#808080", linewidth=1, showticklabels=True, ticks="outside",
                      ticklen=2, tickwidth=0.6, tickcolor="#444444", tickfont=dict(family=FONT, size=6, color="#333333"), tickmode="array")
        xa, ya = new_axes(l_, t_, r_, b_,
                          dict(common, range=[xl, xr], tickvals=[xl + f * (xr - xl) for _, f in xticks], ticktext=[s for s, _ in xticks]),
                          dict(common, range=[yb, yt], tickvals=[yt + f * (yb - yt) for _, f in FLOW_Y_T], ticktext=[s for s, _ in FLOW_Y_T]))
        body = p.get("body", p["outer"])
        ox, oy = closed(p["outer"])
        fig.add_trace(go.Scatter(x=ox, y=oy, xaxis=xa, yaxis=ya, mode="lines", fill="toself", fillcolor=JET[0],
                                 line=dict(width=0, shape="spline", smoothing=0.8), showlegend=False, hoverinfo="skip"))
        for lev, col in zip(LEVELS, JET):
            ring = [(p["peak"][0] + lev * (q[0] - p["peak"][0]), p["peak"][1] + lev * (q[1] - p["peak"][1])) for q in body]
            rx, ry = closed(ring)
            fig.add_trace(go.Scatter(x=rx, y=ry, xaxis=xa, yaxis=ya, mode="lines", fill="toself", fillcolor=col,
                                     line=dict(width=0, shape="spline", smoothing=0.8), showlegend=False, hoverinfo="skip"))
        gl, gr, gt, gb = p["gate"]
        shapes.append(dict(type="rect", xref=xa, yref=ya, x0=gl, x1=gr, y0=gt, y1=gb, line=dict(color="#222222", width=1)))


flow_panels(E_FLOW, 0, 1540, 1.889, 2.8, FLOW_X_T)
flow_panels(F_FLOW, 830, 1540, 1.955, 2.8, FLOW_F_T)

E_TITLE_POS = [(136, 1595), (323, 1595), (131, 1740), (318, 1740), (120, 1882), (321, 1882)]
E_PCT_POS = [(56, 1618), (248, 1618), (57, 1767), (251, 1767), (57, 1908), (249, 1908)]
F_TITLE_POS = [(976, 1582), (1157, 1582), (973, 1727), (1151, 1727), (966, 1871), (1156, 1871)]
F_PCT_POS = [(898, 1609), (1084, 1609), (900, 1757), (1087, 1755), (909, 1900), (1095, 1900)]
for panels, tp, pp in [(E_FLOW, E_TITLE_POS, E_PCT_POS), (F_FLOW, F_TITLE_POS, F_PCT_POS)]:
    for p, (tx_, ty_), (qx, qy) in zip(panels, tp, pp):
        text(tx_, ty_, f"<b>{p['t']}</b>", 22, p["c"])
        text(qx, qy, p["pct"], 20, "#000000", "left")

arrow(14, 1933, 14, 1607, 2.5, 1.8)
text(13, 1979, "CD206", 24, angle=-90)
text(32, 2030, "CX3CR1", 23, xanchor="left")
arrow(126, 2031, 398, 2031, 2.5, 1.8)
text(183, 2070, "Gated on Macrophages", 24)
arrow(857, 1952, 857, 1594, 2.5, 1.8)
text(860, 1990, "iNOS", 24, angle=-90)
text(884, 2025, "CD11b", 23, xanchor="left")
arrow(959, 2025, 1239, 2025, 2.5, 1.8)
text(1039, 2070, "Gated on Macrophages", 24)


# ---------- Bars E, F ----------
def bar_panel(l, t, r, b, xr, yr, ticks, vals, errs, sig, title, tx, ty, ylx, yly):
    xa, ya = new_axes(l, t, r, b,
                      dict(range=xr, showline=True, linecolor="#000000", linewidth=3, showticklabels=True, ticks="outside", ticklen=8,
                           tickwidth=2, tickcolor="#000000", tickmode="array", tickvals=list(range(6)),
                           ticktext=[f"<b><i>{g}</i></b>" for g in BAR_GROUPS], tickangle=-54,
                           tickfont=dict(family=FONT, size=24, color="#000000")),
                      dict(range=yr, showline=True, linecolor="#000000", linewidth=3, showticklabels=True, ticks="outside", ticklen=5,
                           tickwidth=2, tickcolor="#000000", tickvals=ticks, tickfont=dict(family=FONT, size=24, color="#000000")))
    for k in range(6):
        fig.add_trace(go.Bar(x=[k], y=[vals[k]], width=0.89, xaxis=xa, yaxis=ya, marker=dict(color=BAR_COLORS[k], line=dict(width=0)),
                             error_y=dict(type="data", symmetric=False, array=[errs[k]], arrayminus=[0], color=BAR_COLORS[k],
                                          thickness=2, width=9),
                             showlegend=False, hoverinfo="skip"))

    def X(v):
        return l + (v - xr[0]) / (xr[1] - xr[0]) * (r - l)

    def Y(v):
        return b - (v - yr[0]) / (yr[1] - yr[0]) * (b - t)

    for x0_, x1_, y_, lab, lx_ in sig:
        line(X(x0_), Y(y_), X(x1_), Y(y_), 3)
        if lab == "NS":
            text(X(lx_), Y(y_) - 13, lab, 24)
        else:
            text(X(lx_), Y(y_) - 5, lab, 26)
    text(tx, ty, f"<b>{title}</b>", 24)
    text(ylx, yly, "<b>% of Macrophages</b>", 25, angle=-90)


bar_panel(495, 1639, 802, 1926, [-0.907, 5.885], [0, 60], [0, 20, 40, 60], E_VALUES, E_ERRORS, E_SIG, "CD206+ CX3CR1+ Macs", 654, 1574, 442, 1791)
bar_panel(1327, 1643, 1620, 1923, [-0.9, 5.6], [0, 25], [0, 5, 10, 15, 20, 25], F_VALUES, F_ERRORS, F_SIG, "iNOS+ Macs", 1461, 1588, 1272, 1780)

# ---------- Panel letters ----------
for x_, y_, s_ in [(18, 80, "A"), (1149, 78, "B"), (16, 1043, "C"), (1183, 1046, "D"), (17, 1563, "E"), (841, 1563, "F")]:
    text(x_, y_, f"<b>{s_}</b>", 30, family="Liberation Sans")

fig.update_layout(width=W, height=H, margin=dict(l=0, r=0, t=0, b=0, autoexpand=False), paper_bgcolor="white", plot_bgcolor="rgba(0,0,0,0)",
                  barmode="stack", shapes=shapes, annotations=annos, showlegend=False, font=dict(family=FONT), **axes)
fig.write_html("out.html", config=dict(displayModeBar=False), post_script="document.body.style.margin='0';")
